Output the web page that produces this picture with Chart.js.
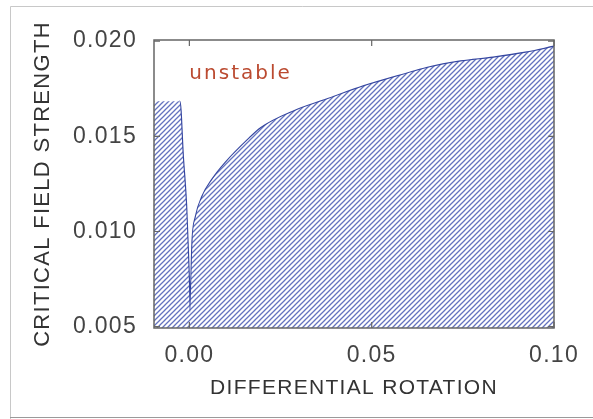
<!DOCTYPE html>
<html>
<head>
<meta charset="utf-8">
<script src="https://cdn.jsdelivr.net/npm/chart.js@4/dist/chart.umd.min.js"></script>
<style>
  html, body { margin: 0; padding: 0; background: #fff; }
  canvas { display: block; }
</style>
</head>
<body>
<canvas id="c" width="593" height="419"></canvas>
<script>
// Stability boundary: critical field strength vs differential rotation
const diffRotation = [-0.0097, -0.0027, -0.0018, -0.00089, -0.0002, 0.0002, 0.00089, 0.0018, 0.00358,
  0.00626, 0.00987, 0.01613, 0.0197, 0.0287, 0.0376, 0.0466, 0.0583, 0.0653, 0.0744, 0.0833, 0.0922, 0.1];
const criticalField = [0.01684, 0.01684, 0.01395, 0.01132, 0.00783, 0.00572, 0.00956, 0.01079, 0.01184,
  0.01272, 0.0136, 0.01483, 0.01544, 0.01632, 0.01693, 0.01755, 0.01822, 0.01860, 0.01893, 0.01913, 0.01939, 0.01971];

const xTicks = [0.00, 0.05, 0.10];
const yTicks = [0.005, 0.010, 0.015, 0.020];
const xRange = [-0.0097, 0.1];
const yRange = [0.00493, 0.02006];

const regionLabel = 'unstable';
const regionLabelAt = [0.0, 0.0180];

const FONT = 'Liberation Sans';
const LINE_BLUE = '#3546a0';

const canvas = document.getElementById('c');
const ctx = canvas.getContext('2d');

// diagonal hatch used to shade the stable region under the curve
function makeHatch() {
  const t = document.createElement('canvas');
  t.width = 5; t.height = 5;
  const g = t.getContext('2d');
  g.fillStyle = '#ffffff';
  g.fillRect(0, 0, 5, 5);
  g.strokeStyle = '#6473bf';
  g.lineWidth = 1.3;
  g.beginPath();
  g.moveTo(-1, 6); g.lineTo(6, -1);
  g.moveTo(-1, 1); g.lineTo(1, -1);
  g.moveTo(4, 6); g.lineTo(6, 4);
  g.stroke();
  return ctx.createPattern(t, 'repeat');
}

const points = diffRotation.map((x, i) => ({ x, y: criticalField[i] }));

const framePlugin = {
  id: 'frame',
  beforeLayout(chart) { chart.ctx.letterSpacing = '1.3px'; },
  beforeDraw(chart) {
    const c = chart.ctx;
    c.letterSpacing = '1.3px';
    c.save();
    c.fillStyle = '#fff';
    c.fillRect(0, 0, chart.width, chart.height);
    // outer figure border
    c.lineWidth = 1;
    c.strokeStyle = '#c8c8c8';
    c.beginPath();
    c.moveTo(10.5, 420); c.lineTo(10.5, 6.5); c.lineTo(600, 6.5);
    c.stroke();
    c.strokeStyle = '#9a9a9a';
    c.beginPath();
    c.moveTo(10, 417.5); c.lineTo(600, 417.5);
    c.stroke();
    c.restore();
  },
  afterDatasetsDraw(chart) {
    const c = chart.ctx;
    const a = chart.chartArea;
    const xs = chart.scales.x, ys = chart.scales.y;
    c.save();
    // plot box
    c.strokeStyle = '#666';
    c.lineWidth = 1.5;
    c.strokeRect(a.left, a.top, a.right - a.left, a.bottom - a.top);
    // inward tick marks on all four sides
    const tl = 6;
    c.lineWidth = 1.2;
    c.beginPath();
    xs.ticks.forEach(t => {
      const px = xs.getPixelForValue(t.value);
      c.moveTo(px, a.bottom); c.lineTo(px, a.bottom - tl);
      c.moveTo(px, a.top); c.lineTo(px, a.top + tl);
    });
    ys.ticks.forEach(t => {
      const py = ys.getPixelForValue(t.value);
      c.moveTo(a.left, py); c.lineTo(a.left + tl, py);
      c.moveTo(a.right, py); c.lineTo(a.right - tl, py);
    });
    c.stroke();
    // region label
    c.letterSpacing = '2px';
    c.fillStyle = '#bb4a30';
    c.font = '20px "DejaVu Sans"';
    c.textAlign = 'left';
    c.textBaseline = 'alphabetic';
    c.fillText(regionLabel, xs.getPixelForValue(regionLabelAt[0]), ys.getPixelForValue(regionLabelAt[1]));
    c.restore();
  }
};

new Chart(canvas, {
  type: 'line',
  data: {
    datasets: [{
      // hatched stable region below the boundary
      data: points,
      borderWidth: 0,
      borderColor: 'rgba(0,0,0,0)',
      backgroundColor: makeHatch(),
      fill: 'start',
      pointRadius: 0,
      cubicInterpolationMode: 'monotone'
    }, {
      // boundary curve (the flat plateau on the left carries no line)
      data: points,
      borderColor: LINE_BLUE,
      borderWidth: 2.3,
      fill: false,
      pointRadius: 0,
      cubicInterpolationMode: 'monotone',
      segment: {
        borderColor: s => (s.p0DataIndex === 0 ? 'rgba(0,0,0,0)' : LINE_BLUE)
      }
    }]
  },
  options: {
    responsive: false,
    animation: false,
    devicePixelRatio: 1,
    layout: { padding: { top: 40, right: 31, left: 0, bottom: 0 } },
    plugins: { legend: { display: false }, tooltip: { enabled: false } },
    scales: {
      x: {
        type: 'linear',
        min: xRange[0], max: xRange[1],
        afterBuildTicks: s => { s.ticks = xTicks.map(v => ({ value: v })); },
        afterFit: s => { s.height = 91; },
        grid: { display: false, drawTicks: false },
        border: { display: false },
        ticks: {
          callback: v => Number(v).toFixed(2),
          font: { family: FONT, size: 23 },
          color: '#444',
          padding: 14,
          maxRotation: 0,
          autoSkip: false
        },
        title: {
          display: true,
          text: 'DIFFERENTIAL ROTATION',
          font: { family: FONT, size: 21 },
          color: '#333',
          padding: { top: 0, bottom: 18 }
        }
      },
      y: {
        type: 'linear',
        min: yRange[0], max: yRange[1],
        afterBuildTicks: s => { s.ticks = yTicks.map(v => ({ value: v })); },
        afterFit: s => { s.width = 154; },
        grid: { display: false, drawTicks: false },
        border: { display: false },
        ticks: {
          callback: v => Number(v).toFixed(3),
          font: { family: FONT, size: 23 },
          color: '#444',
          padding: 17,
          autoSkip: false
        },
        title: {
          display: true,
          text: 'CRITICAL FIELD STRENGTH',
          font: { family: FONT, size: 22 },
          color: '#333',
          padding: { top: 30, bottom: 0 }
        }
      }
    }
  },
  plugins: [framePlugin]
});
</script>
</body>
</html>
